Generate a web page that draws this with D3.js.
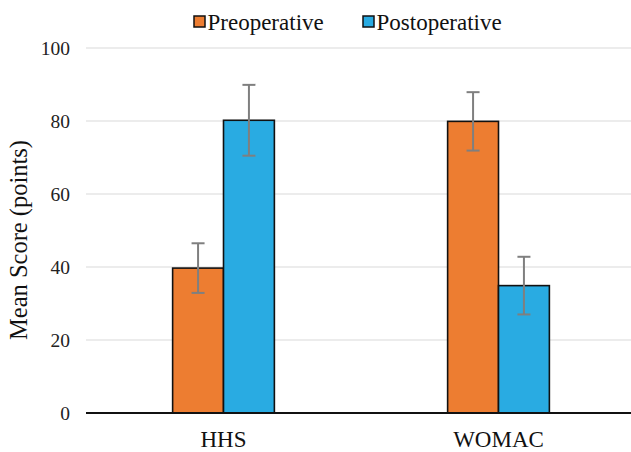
<!DOCTYPE html>
<html>
<head>
<meta charset="utf-8">
<script src="https://cdn.jsdelivr.net/npm/d3@7"></script>
<style>
  html, body { margin: 0; padding: 0; background: #fff; }
  svg text { font-family: "Liberation Serif", "Times New Roman", Times, "DejaVu Serif", serif !important; }
</style>
</head>
<body>
<svg id="chart" width="631" height="452"></svg>
<script>
const categories = ["HHS", "WOMAC"];
const seriesNames = ["Preoperative", "Postoperative"];
const preValues = [39.7, 79.9];
const postValues = [80.2, 34.9];
const preErrors = [6.8, 8.0];
const postErrors = [9.7, 7.9];
const yTicks = [0, 20, 40, 60, 80, 100];
const colors = ["#ED7D31", "#29ABE2"];

const svg = d3.select("#chart");
const x0 = d3.scaleBand().domain(categories).range([86, 636]).paddingInner(0.63).paddingOuter(0.315);
const x1 = d3.scaleBand().domain(seriesNames).range([0, x0.bandwidth()]);
const y = d3.scaleLinear().domain([0, 100]).range([413, 48]);

// gridlines
svg.append("g").selectAll("line").data(yTicks.filter(d => d > 0)).join("line")
  .attr("x1", 86).attr("x2", 631)
  .attr("y1", d => y(d)).attr("y2", d => y(d))
  .attr("stroke", "#D9D9D9").attr("stroke-width", 1.2);

// y axis labels
const yAxis = d3.axisLeft(y).tickValues(yTicks).tickSize(0).tickPadding(0);
const ya = svg.append("g").attr("transform", "translate(70,0)").call(yAxis);
ya.select(".domain").remove();
ya.attr("font-family", null);
ya.selectAll("text").attr("font-size", 19.5).attr("fill", "#222");

// y title
svg.append("text")
  .attr("transform", "translate(27,240) rotate(-90)")
  .attr("text-anchor", "middle")
  .attr("font-size", 24.5).attr("fill", "#111")
  .text("Mean Score (points)");

const data = categories.map((c, i) => ({
  cat: c,
  vals: [
    { s: seriesNames[0], v: preValues[i], e: preErrors[i], c: colors[0] },
    { s: seriesNames[1], v: postValues[i], e: postErrors[i], c: colors[1] }
  ]
}));

const groups = svg.append("g").selectAll("g").data(data).join("g")
  .attr("transform", d => `translate(${x0(d.cat)},0)`);

groups.selectAll("rect").data(d => d.vals).join("rect")
  .attr("x", d => x1(d.s))
  .attr("width", x1.bandwidth())
  .attr("y", d => y(d.v))
  .attr("height", d => y(0) - y(d.v))
  .attr("fill", d => d.c)
  .attr("stroke", "#111").attr("stroke-width", 1.6);

// error bars
const eb = groups.selectAll("g.err").data(d => d.vals).join("g").attr("class", "err")
  .attr("stroke", "#7F7F7F").attr("stroke-width", 2);
eb.append("line")
  .attr("x1", d => x1(d.s) + x1.bandwidth() / 2).attr("x2", d => x1(d.s) + x1.bandwidth() / 2)
  .attr("y1", d => y(d.v + d.e)).attr("y2", d => y(d.v - d.e));
eb.append("line")
  .attr("x1", d => x1(d.s) + x1.bandwidth() / 2 - 6.5).attr("x2", d => x1(d.s) + x1.bandwidth() / 2 + 6.5)
  .attr("y1", d => y(d.v + d.e)).attr("y2", d => y(d.v + d.e));
eb.append("line")
  .attr("x1", d => x1(d.s) + x1.bandwidth() / 2 - 6.5).attr("x2", d => x1(d.s) + x1.bandwidth() / 2 + 6.5)
  .attr("y1", d => y(d.v - d.e)).attr("y2", d => y(d.v - d.e));

// baseline axis
svg.append("line").attr("x1", 86).attr("x2", 631).attr("y1", y(0)).attr("y2", y(0))
  .attr("stroke", "#111").attr("stroke-width", 2);

// x labels
const xAxis = d3.axisBottom(x0).tickSize(0).tickPadding(0);
const xa = svg.append("g").attr("transform", "translate(0,447)").call(xAxis);
xa.select(".domain").remove();
xa.attr("font-family", null);
xa.selectAll("text").attr("font-size", 23).attr("fill", "#111").attr("dy", 0);

// legend
const legendX = [194, 363];
const lg = svg.append("g").selectAll("g").data(seriesNames).join("g")
  .attr("transform", (d, i) => `translate(${legendX[i]},0)`);
lg.append("rect").attr("x", 0).attr("y", 16).attr("width", 11).attr("height", 11)
  .attr("fill", (d, i) => colors[i]).attr("stroke", "#111").attr("stroke-width", 1.5);
lg.append("text").attr("x", 13.5).attr("y", 30).attr("font-size", 23).attr("fill", "#111")
  .text(d => d);
</script>
</body>
</html>
